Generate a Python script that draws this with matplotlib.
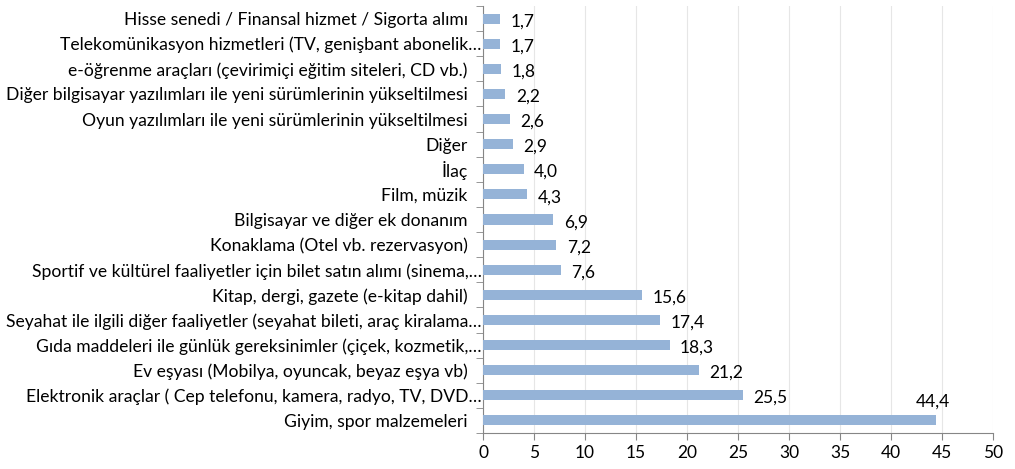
import matplotlib
matplotlib.use("Agg")
import matplotlib.pyplot as plt
import matplotlib.transforms as mtransforms
import numpy as np

categories = [
    "Giyim, spor malzemeleri",
    "Elektronik araçlar ( Cep telefonu, kamera, radyo, TV, DVD…",
    "Ev eşyası (Mobilya, oyuncak, beyaz eşya vb)",
    "Gıda maddeleri ile günlük gereksinimler (çiçek, kozmetik,…",
    "Seyahat ile ilgili diğer faaliyetler (seyahat bileti, araç kiralama…",
    "Kitap, dergi, gazete (e-kitap dahil)",
    "Sportif ve kültürel faaliyetler için bilet satın alımı (sinema,…",
    "Konaklama (Otel vb. rezervasyon)",
    "Bilgisayar ve diğer ek donanım",
    "Film, müzik",
    "İlaç",
    "Diğer",
    "Oyun yazılımları ile yeni sürümlerinin yükseltilmesi",
    "Diğer bilgisayar yazılımları ile yeni sürümlerinin yükseltilmesi",
    "e-öğrenme araçları (çevirimiçi eğitim siteleri, CD vb.)",
    "Telekomünikasyon hizmetleri (TV, genişbant abonelik…",
    "Hisse senedi / Finansal hizmet / Sigorta alımı",
]
values = [44.4, 25.5, 21.2, 18.3, 17.4, 15.6, 7.6, 7.2, 6.9, 4.3, 4.0, 2.9, 2.6, 2.2, 1.8, 1.7, 1.7]
xticks = [0, 5, 10, 15, 20, 25, 30, 35, 40, 45, 50]

plt.rcParams['font.family'] = ['Lato', 'DejaVu Sans']

fig = plt.figure(figsize=(10.15, 4.69), dpi=100)
ax = fig.add_axes([0.4759, 0.0768, 0.5024, 0.9104])

y = np.arange(len(categories))
ax.barh(y, values, height=0.4, color="#95B3D7", zorder=3)
ax.set_ylim(-0.5, len(categories) - 0.5)
ax.set_xlim(0, 50)
ax.set_xticks(xticks)
ax.set_xticklabels([str(t) for t in xticks], fontsize=12.5, color="#000000")
ax.set_yticks(y)
ax.set_yticklabels(categories, fontsize=12.6, color="#000000")
ax.tick_params(axis='y', length=0, pad=1)
ax.set_yticks(np.arange(-0.5, len(categories), 1.0), minor=True)
ax.tick_params(axis='y', which='minor', length=5, color="#868686")
ax.tick_params(axis='x', length=5, color="#868686", pad=4)
ax.grid(axis='x', color="#E6E6E6", linewidth=0.8, zorder=0)

for lab in ax.get_yticklabels():
    if not lab.get_text().endswith("…"):
        lab.set_transform(lab.get_transform() +
                          mtransforms.ScaledTranslation(-0.14, 0, fig.dpi_scale_trans))

for s in ['top', 'right']:
    ax.spines[s].set_visible(False)
for s in ['left', 'bottom']:
    ax.spines[s].set_color("#868686")

for yi, v in zip(y, values):
    lbl = f"{v:.1f}".replace(".", ",")
    if v > 40:
        ax.annotate(lbl, (v, yi), xytext=(-2, 8), textcoords="offset points",
                    ha="center", va="bottom", fontsize=12.5)
    else:
        ax.annotate(lbl, (v, yi), xytext=(7.5, -2), textcoords="offset points",
                    ha="left", va="center", fontsize=12.5)

fig.savefig("out.png", dpi=100)
